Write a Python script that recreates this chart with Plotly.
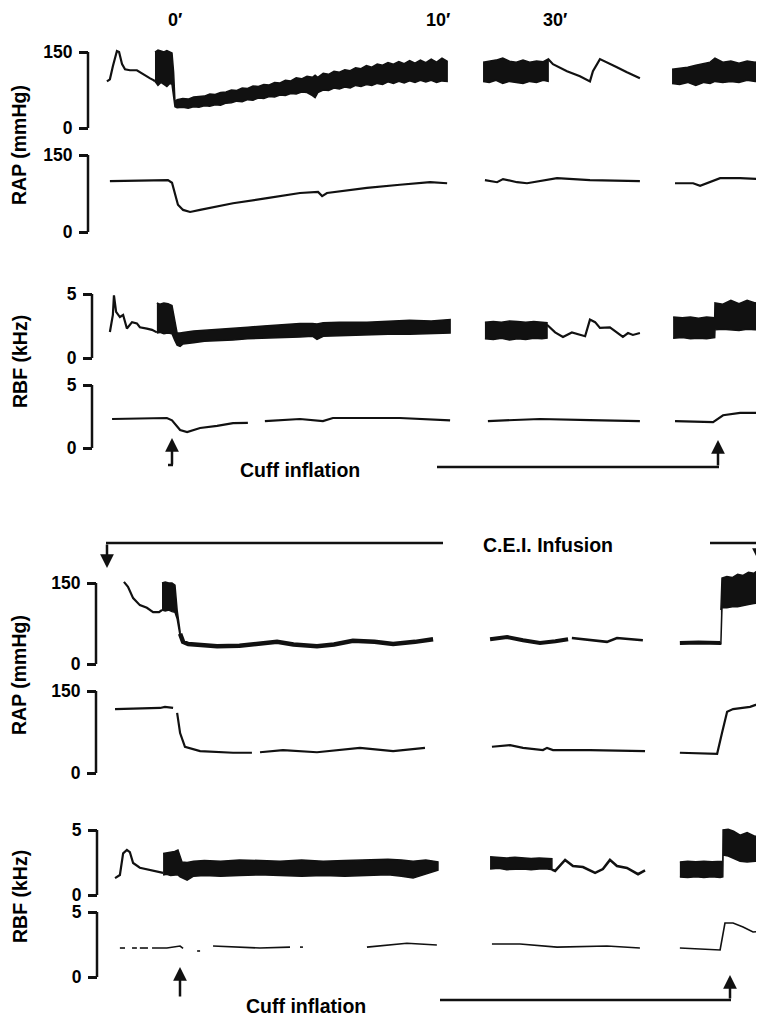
import plotly.graph_objects as go

# reference canvas and the browser's 8px body margin
REF_W, REF_H = 764, 1018
OFF = 8
W, H = REF_W - OFF, REF_H - OFF

# ---------------- DATA (time in minutes of chart record) ----------------
# ===== Top panel (control) =====
# RAP pulsatile (mmHg)
a1_s1_line_t = [-2.41, -2.30, -2.19, -2.04, -1.96, -1.85, -1.74, -1.56, -1.30, -1.07, -0.81, -0.67, -0.63]
a1_s1_line_v = [92, 96, 122, 152, 150, 126, 116, 114, 114, 106, 98, 94, 92]
a1_s1_band_t = [-0.63, -0.52, -0.41, -0.30, -0.19, -0.08, 0.00, 0.06, 0.11,
                0.19, 0.4, 0.6, 0.8, 1.0, 1.2, 1.4, 1.6, 1.8, 2.0, 2.2, 2.4, 2.6, 2.8, 3.0, 3.2, 3.4, 3.6,
                3.8, 4.0, 4.2, 4.4, 4.6, 4.8, 5.0, 5.2, 5.3, 5.4, 5.6, 5.8, 6.0, 6.2, 6.4, 6.6, 6.8, 7.0,
                7.2, 7.4, 7.6, 7.8, 8.0, 8.2, 8.4, 8.6, 8.8, 9.0, 9.2, 9.4, 9.6, 9.8, 10.0, 10.19]
a1_s1_band_hi = [150, 154, 152, 150, 153, 150, 148, 110, 52,
                 56, 58, 57, 61, 62, 63, 67, 66, 70, 71, 75, 74, 79, 78, 83, 82, 86, 85,
                 90, 89, 94, 93, 99, 97, 102, 100, 104, 100, 108, 106, 112, 110, 115, 113, 119, 117,
                 123, 120, 126, 124, 129, 126, 131, 127, 133, 128, 134, 129, 136, 130, 138, 132]
a1_s1_band_lo = [92, 84, 90, 86, 82, 88, 86, 60, 42,
                 40, 41, 39, 42, 41, 44, 43, 46, 45, 49, 50, 53, 52, 56, 55, 59, 58, 62,
                 61, 65, 64, 68, 67, 71, 70, 64, 60, 70, 75, 74, 79, 77, 81, 79, 84, 82,
                 86, 84, 88, 86, 91, 88, 92, 89, 93, 90, 94, 91, 94, 90, 93, 92]
a1_s2_band_t = [11.52, 11.75, 12.00, 12.25, 12.50, 12.75, 13.00, 13.25, 13.50, 13.75, 13.93]
a1_s2_band_hi = [130, 132, 134, 138, 132, 130, 134, 130, 132, 131, 136]
a1_s2_band_lo = [92, 90, 94, 88, 92, 90, 88, 92, 90, 94, 92]
a1_s2_line_t = [13.93, 14.11, 14.63, 15.11, 15.48, 15.59, 15.85, 16.11, 16.48, 16.85, 17.33]
a1_s2_line_v = [136, 126, 112, 102, 92, 112, 136, 130, 120, 110, 98]
a1_s3_band_t = [18.52, 18.80, 19.10, 19.40, 19.70, 19.93, 20.11, 20.40, 20.70, 21.00, 21.30, 21.60, 21.93]
a1_s3_band_hi = [116, 118, 120, 124, 128, 130, 138, 130, 132, 128, 132, 130, 132]
a1_s3_band_lo = [88, 86, 90, 84, 90, 88, 92, 90, 92, 90, 94, 92, 92]

# RAP mean (mmHg)
a2_s1_t = [-2.30, -1.00, -0.15, 0.00, 0.11, 0.22, 0.41, 0.67, 1.04, 2.26, 3.52, 4.74, 5.41, 5.56, 5.74, 7.22, 8.44, 9.56, 10.19]
a2_s1_v = [99, 100, 101, 96, 76, 53, 43, 39, 43, 56, 66, 76, 78, 70, 76, 86, 92, 97, 95]
a2_s2_t = [11.59, 12.04, 12.26, 12.78, 13.15, 14.26, 15.48, 17.33]
a2_s2_v = [101, 97, 103, 97, 95, 105, 101, 99]
a2_s3_t = [18.63, 19.30, 19.56, 19.93, 20.30, 21.04, 21.93]
a2_s3_v = [95, 95, 90, 97, 105, 105, 103]

# RBF pulsatile (kHz)
a3_s1_line_t = [-2.30, -2.19, -2.15, -2.07, -1.93, -1.81, -1.67, -1.48, -1.30, -1.19, -0.93, -0.74, -0.56]
a3_s1_line_v = [2.03, 3.36, 4.9, 3.6, 3.2, 3.36, 2.3, 2.8, 2.7, 2.4, 2.3, 2.2, 2.0]
a3_s1_band_t = [-0.56, -0.45, -0.30, -0.15, 0.00, 0.10, 0.19, 0.30, 0.41, 0.80, 1.20, 1.60, 2.26, 2.80, 3.40,
                4.00, 4.74, 5.20, 5.37, 5.60, 6.20, 7.22, 8.00, 8.80, 9.60, 10.30]
a3_s1_band_hi = [4.3, 4.2, 4.3, 4.25, 4.1, 3.0, 1.95, 1.95, 2.0, 2.1, 2.15, 2.2, 2.3, 2.4, 2.5,
                 2.6, 2.7, 2.7, 2.65, 2.75, 2.8, 2.8, 2.85, 2.95, 2.9, 3.0]
a3_s1_band_lo = [1.95, 2.0, 1.9, 1.95, 1.9, 1.4, 1.0, 0.9, 1.1, 1.2, 1.3, 1.35, 1.4, 1.5, 1.55,
                 1.6, 1.65, 1.7, 1.45, 1.7, 1.75, 1.8, 1.85, 1.85, 1.9, 1.95]
a3_s2_band_t = [11.59, 11.90, 12.20, 12.50, 12.80, 13.10, 13.40, 13.70, 13.89]
a3_s2_band_hi = [2.8, 2.85, 2.8, 2.9, 2.85, 2.8, 2.85, 2.8, 2.75]
a3_s2_band_lo = [1.5, 1.45, 1.55, 1.4, 1.5, 1.45, 1.55, 1.5, 1.55]
a3_s2_line_t = [13.89, 14.19, 14.48, 14.81, 15.30, 15.48, 15.67, 15.85, 16.22, 16.48, 16.70, 16.89, 17.07, 17.33]
a3_s2_line_v = [2.6, 2.0, 1.65, 2.0, 1.7, 3.0, 2.8, 2.35, 2.4, 2.0, 1.65, 1.95, 1.8, 1.95]
a3_s3_band_t = [18.56, 18.90, 19.20, 19.50, 19.80, 20.10, 20.11, 20.40, 20.70, 21.00, 21.30, 21.60, 21.93]
a3_s3_band_hi = [3.2, 3.15, 3.2, 3.1, 3.2, 3.15, 4.3, 4.2, 4.5, 4.25, 4.5, 4.3, 4.5]
a3_s3_band_lo = [1.55, 1.6, 1.5, 1.55, 1.5, 1.6, 2.2, 2.25, 2.2, 2.15, 2.25, 2.2, 2.2]

# RBF mean (kHz)
a4_s1_t = [-2.22, -0.19, 0.00, 0.30, 0.56, 1.04, 1.67, 2.26, 2.81, None, 3.44, 4.74, 5.59, 5.96, 8.44, 10.30]
a4_s1_v = [2.3, 2.38, 2.2, 1.43, 1.27, 1.59, 1.75, 1.98, 2.0, None, 2.14, 2.3, 2.14, 2.38, 2.38, 2.2]
a4_s2_t = [11.70, 13.63, 15.48, 17.33]
a4_s2_v = [2.14, 2.3, 2.22, 2.14]
a4_s3_t = [18.63, 20.04, 20.41, 21.04, 21.52, 21.93]
a4_s3_v = [2.14, 2.06, 2.6, 2.78, 2.78, 2.78]

# ===== Bottom panel (C.E.I. infusion) =====
# RAP pulsatile (mmHg)
b1_s1_line_t = [-1.78, -1.63, -1.44, -1.19, -0.93, -0.70, -0.48, -0.37]
b1_s1_line_v = [152, 143, 122, 109, 104, 96, 96, 100]
b1_s1_band_t = [-0.37, -0.25, -0.12, 0.00, 0.11, 0.19, 0.30]
b1_s1_band_hi = [150, 152, 150, 150, 146, 100, 60]
b1_s1_band_lo = [100, 98, 100, 97, 96, 84, 52]
b1_s1_thick_t = [0.30, 0.41, 0.60, 1.00, 1.67, 2.50, 3.00, 3.89, 4.50, 5.37, 6.00, 6.70, 7.50, 8.19, 9.00, 9.67]
b1_s1_thick_v = [56, 41, 37, 35, 33, 34, 36, 41, 36, 33, 36, 43, 41, 37, 41, 46]
b1_s2_thick_t = [11.78, 12.00, 12.41, 13.00, 13.63, 14.20, 14.67]
b1_s2_thick_v = [46, 47, 50, 44, 39, 42, 46]
b1_s2_thin_t = [14.81, 15.50, 16.11, 16.48, 17.44]
b1_s2_thin_v = [48, 45, 41, 48, 44]
b1_s3_thick_t = [18.81, 19.50, 20.30, 20.33]
b1_s3_thick_v = [39, 40, 39, 40]
b1_s3_band_t = [20.33, 20.37, 20.55, 20.75, 20.95, 21.15, 21.35, 21.55, 21.75, 21.93]
b1_s3_band_hi = [100, 159, 162, 160, 166, 164, 170, 168, 175, 178]
b1_s3_band_lo = [39, 104, 104, 106, 106, 108, 110, 112, 114, 115]

# RAP mean (mmHg)
b2_s1_t = [-2.11, -0.44, -0.26, 0.04, None, 0.19, 0.30, 0.48, 1.04, 2.26, 2.96, None, 3.26, 4.11, 5.37, 6.96, 8.19, 9.37]
b2_s1_v = [117, 119, 121, 119, None, 110, 73, 48, 40, 37, 37, None, 38, 42, 38, 46, 40, 46]
b2_s2_t = [11.85, 12.52, 13.00, 13.74, 13.89, 14.11, 15.48, 17.52]
b2_s2_v = [48, 51, 46, 42, 46, 42, 42, 40]
b2_s3_t = [18.81, 20.19, 20.37, 20.56, 20.78, 21.41, 21.93]
b2_s3_v = [37, 35, 73, 112, 117, 121, 130]

# RBF pulsatile (kHz)
b3_s1_line_t = [-2.11, -1.93, -1.81, -1.67, -1.56, -1.44, -1.19, -0.81, -0.44, -0.33]
b3_s1_line_v = [1.3, 1.54, 3.2, 3.46, 3.3, 2.46, 2.1, 1.9, 1.7, 1.7]
b3_s1_band_t = [-0.33, -0.20, -0.05, 0.10, 0.22, 0.30, 0.37, 0.56, 0.80, 1.20, 1.80, 2.50, 3.20, 4.00, 4.80,
                5.60, 6.40, 7.20, 8.00, 8.50, 8.93, 9.40, 9.85]
b3_s1_band_hi = [3.2, 3.25, 3.3, 3.35, 3.46, 3.0, 2.54, 2.5, 2.6, 2.65, 2.6, 2.7, 2.65, 2.6, 2.7,
                 2.6, 2.65, 2.7, 2.75, 2.7, 2.6, 2.7, 2.55]
b3_s1_band_lo = [1.54, 1.6, 1.5, 1.55, 1.55, 1.4, 1.3, 1.15, 1.45, 1.5, 1.45, 1.5, 1.55, 1.5, 1.45,
                 1.5, 1.45, 1.5, 1.55, 1.45, 1.3, 1.6, 1.9]
b3_s2_band_t = [11.78, 12.10, 12.40, 12.70, 13.00, 13.30, 13.60, 13.90, 14.07]
b3_s2_band_hi = [2.95, 2.9, 2.85, 2.9, 2.85, 2.8, 2.85, 2.8, 2.8]
b3_s2_band_lo = [2.0, 2.05, 1.95, 2.0, 2.0, 1.95, 2.0, 2.0, 1.95]
b3_s2_line_t = [14.07, 14.19, 14.56, 14.85, 15.22, 15.67, 15.96, 16.22, 16.48, 16.85, 17.26, 17.52]
b3_s2_line_v = [1.95, 1.85, 2.7, 2.23, 2.15, 1.7, 2.0, 2.7, 2.23, 2.08, 1.6, 1.9]
b3_s3_band_t = [18.81, 19.10, 19.40, 19.70, 20.00, 20.30, 20.40, 20.41, 20.60, 20.80, 21.04, 21.30, 21.60, 21.93]
b3_s3_band_hi = [2.54, 2.6, 2.55, 2.6, 2.55, 2.6, 2.6, 5.0, 5.05, 4.9, 4.6, 4.8, 4.5, 4.9]
b3_s3_band_lo = [1.38, 1.35, 1.4, 1.35, 1.4, 1.35, 1.4, 3.08, 3.0, 2.8, 2.6, 2.54, 2.6, 2.54]

# RBF mean (kHz) – faint, broken trace
b4_s1_t = [-1.93, -1.74, None, -1.48, -1.30, None, -1.19, -0.89, None, -0.74, -0.19, 0.30, 0.41, None,
           0.93, 1.04, None, 1.52, 2.26, 3.26, 4.37, None, 4.74, 4.85, None, 7.22, 8.70, 9.81]
b4_s1_v = [2.23, 2.23, None, 2.23, 2.23, None, 2.23, 2.23, None, 2.23, 2.23, 2.38, 2.2, None,
           2.0, 2.0, None, 2.38, 2.3, 2.23, 2.3, None, 2.3, 2.3, None, 2.3, 2.6, 2.46]
b4_s2_t = [11.85, 12.89, 14.26, 16.11, 17.33]
b4_s2_v = [2.54, 2.54, 2.3, 2.38, 2.23]
b4_s3_t = [18.81, 20.30, 20.48, 20.78, 21.15, 21.52, 21.93]
b4_s3_v = [2.23, 2.08, 4.15, 4.15, 3.85, 3.46, 3.54]

# axis labels
time_marks = ["0\u2032", "10\u2032", "30\u2032"]
time_mark_t = [0.1, 9.85, 14.2]

# ---------------- LAYOUT HELPERS ----------------
PX_PER_MIN = 27.0
T_ZERO_PX = 172  # reference pixel column of 0'
X_RANGE = [(OFF - T_ZERO_PX) / PX_PER_MIN, (REF_W - T_ZERO_PX) / PX_PER_MIN]
FAMILY = "Liberation Sans, Arial, sans-serif"
FONT = dict(family=FAMILY, size=19.5, color="black", weight="bold")
TIMEFONT = dict(family=FAMILY, size=18, color="black", weight="bold")
TICKFONT = dict(family=FAMILY, size=17.5, color="black", weight="bold")
INK = "#111111"


def px(x):
    return (x - OFF) / W


def py(y):
    return 1 - (y - OFF) / H


# (axis id, reference pixel row of top value, of zero, bracket x pixel, top value)
axes_spec = [
    ("y",  52, 128, 88, 150),
    ("y2", 155, 232, 88, 150),
    ("y3", 294, 358, 92, 5),
    ("y4", 385, 448, 92, 5),
    ("y5", 583, 664, 96, 150),
    ("y6", 691, 773, 96, 150),
    ("y7", 830, 895, 97, 5),
    ("y8", 912, 977, 97, 5),
]

fig = go.Figure()
shapes = []
EXT = 30
for ax_id, ptop, p0, bx, vtop in axes_spec:
    s = (p0 - ptop) / vtop
    pb, pt = p0 + EXT, ptop - EXT
    rng = [-EXT / s, vtop + EXT / s]
    dom = [py(pb), py(pt)]
    key = "yaxis" if ax_id == "y" else "yaxis" + ax_id[1:]
    fig.layout[key] = dict(
        domain=dom, range=rng, anchor="free", position=px(bx),
        tickvals=[0, vtop], ticktext=[str(v) for v in ([0, vtop])],
        ticks="outside", ticklen=9, tickwidth=2.5, tickcolor=INK,
        showgrid=False, zeroline=False, showline=False, tickfont=TICKFONT,
        ticklabelstandoff=3, fixedrange=True,
    )
    shapes.append(dict(type="line", xref="paper", yref=ax_id, x0=px(bx), x1=px(bx),
                       y0=0, y1=vtop, line=dict(color=INK, width=2.5)))


def join(*segs):
    out = []
    for i, sgm in enumerate(segs):
        if i:
            out.append(None)
        out.extend(sgm)
    return out


def line(t, v, yax, width=2.2):
    fig.add_trace(go.Scatter(x=t, y=v, yaxis=yax, mode="lines", connectgaps=False,
                             line=dict(color=INK, width=width), hoverinfo="skip", showlegend=False))


def band(t, hi, lo, yax):
    fig.add_trace(go.Scatter(x=list(t) + list(t)[::-1], y=list(hi) + list(lo)[::-1], yaxis=yax,
                             mode="lines", fill="toself", fillcolor=INK,
                             line=dict(color=INK, width=1.5), hoverinfo="skip", showlegend=False))


# top panel
line(a1_s1_line_t, a1_s1_line_v, "y")
band(a1_s1_band_t, a1_s1_band_hi, a1_s1_band_lo, "y")
band(a1_s2_band_t, a1_s2_band_hi, a1_s2_band_lo, "y")
line(a1_s2_line_t, a1_s2_line_v, "y")
band(a1_s3_band_t, a1_s3_band_hi, a1_s3_band_lo, "y")
line(join(a2_s1_t, a2_s2_t, a2_s3_t), join(a2_s1_v, a2_s2_v, a2_s3_v), "y2")
line(a3_s1_line_t, a3_s1_line_v, "y3")
band(a3_s1_band_t, a3_s1_band_hi, a3_s1_band_lo, "y3")
band(a3_s2_band_t, a3_s2_band_hi, a3_s2_band_lo, "y3")
line(a3_s2_line_t, a3_s2_line_v, "y3")
band(a3_s3_band_t, a3_s3_band_hi, a3_s3_band_lo, "y3")
line(join(a4_s1_t, a4_s2_t, a4_s3_t), join(a4_s1_v, a4_s2_v, a4_s3_v), "y4")

# bottom panel
line(b1_s1_line_t, b1_s1_line_v, "y5")
band(b1_s1_band_t, b1_s1_band_hi, b1_s1_band_lo, "y5")
line(b1_s1_thick_t, b1_s1_thick_v, "y5", width=4.5)
line(b1_s2_thick_t, b1_s2_thick_v, "y5", width=4.0)
line(b1_s2_thin_t, b1_s2_thin_v, "y5", width=2.5)
line(b1_s3_thick_t, b1_s3_thick_v, "y5", width=4.0)
band(b1_s3_band_t, b1_s3_band_hi, b1_s3_band_lo, "y5")
line(join(b2_s1_t, b2_s2_t, b2_s3_t), join(b2_s1_v, b2_s2_v, b2_s3_v), "y6")
line(b3_s1_line_t, b3_s1_line_v, "y7")
band(b3_s1_band_t, b3_s1_band_hi, b3_s1_band_lo, "y7")
band(b3_s2_band_t, b3_s2_band_hi, b3_s2_band_lo, "y7")
line(b3_s2_line_t, b3_s2_line_v, "y7", width=2.5)
band(b3_s3_band_t, b3_s3_band_hi, b3_s3_band_lo, "y7")
line(join(b4_s1_t, b4_s2_t, b4_s3_t), join(b4_s1_v, b4_s2_v, b4_s3_v), "y8", width=1.6)

# ---------------- annotations / event markers ----------------
annotations = []
for lab, tt in zip(time_marks, time_mark_t):
    annotations.append(dict(x=tt, xref="x", y=py(20), yref="paper", text=lab, showarrow=False,
                            font=TIMEFONT, xanchor="center", yanchor="middle"))

for txt, cx, cy in [("RAP (mmHg)", 19, 145), ("RBF (kHz)", 20, 362),
                    ("RAP (mmHg)", 19, 675), ("RBF (kHz)", 20, 897)]:
    annotations.append(dict(x=px(cx), y=py(cy), xref="paper", yref="paper", text=txt, textangle=-90,
                            showarrow=False, font=FONT, xanchor="center", yanchor="middle"))

for txt, cx, cy in [("Cuff inflation", 300, 470), ("Cuff inflation", 306, 1006), ("C.E.I. Infusion", 548, 545)]:
    annotations.append(dict(x=px(cx), y=py(cy), xref="paper", yref="paper", text=txt,
                            showarrow=False, font=FONT, xanchor="center", yanchor="middle"))

# arrows: (tip x, tip y, tail dx, tail dy) in reference pixels
for tx, ty, dx, dy in [(172, 438, 0, 28), (718, 440, 0, 27), (180, 967, 0, 31), (730, 975, 0, 25),
                       (107, 568, 0, -25), (759, 562, 0, -19)]:
    annotations.append(dict(x=px(tx), y=py(ty), xref="paper", yref="paper", text="", showarrow=True,
                            ax=dx, ay=dy, arrowhead=2, arrowsize=1.1, arrowwidth=2.5, arrowcolor=INK))

for x0, y0, x1, y1 in [(437, 467, 719, 467), (440, 1000, 731, 1000), (106, 543, 443, 543), (710, 543, 760, 543),
                       (168, 465, 173, 465)]:
    shapes.append(dict(type="line", xref="paper", yref="paper", x0=px(x0), y0=py(y0), x1=px(x1), y1=py(y1),
                       line=dict(color=INK, width=2.5)))

fig.update_layout(
    width=W, height=H, margin=dict(l=0, r=0, t=0, b=0),
    paper_bgcolor="white", plot_bgcolor="rgba(0,0,0,0)",
    xaxis=dict(range=X_RANGE, domain=[0, 1], visible=False, fixedrange=True),
    shapes=shapes, annotations=annotations, showlegend=False,
)

fig.write_html("out.html")
